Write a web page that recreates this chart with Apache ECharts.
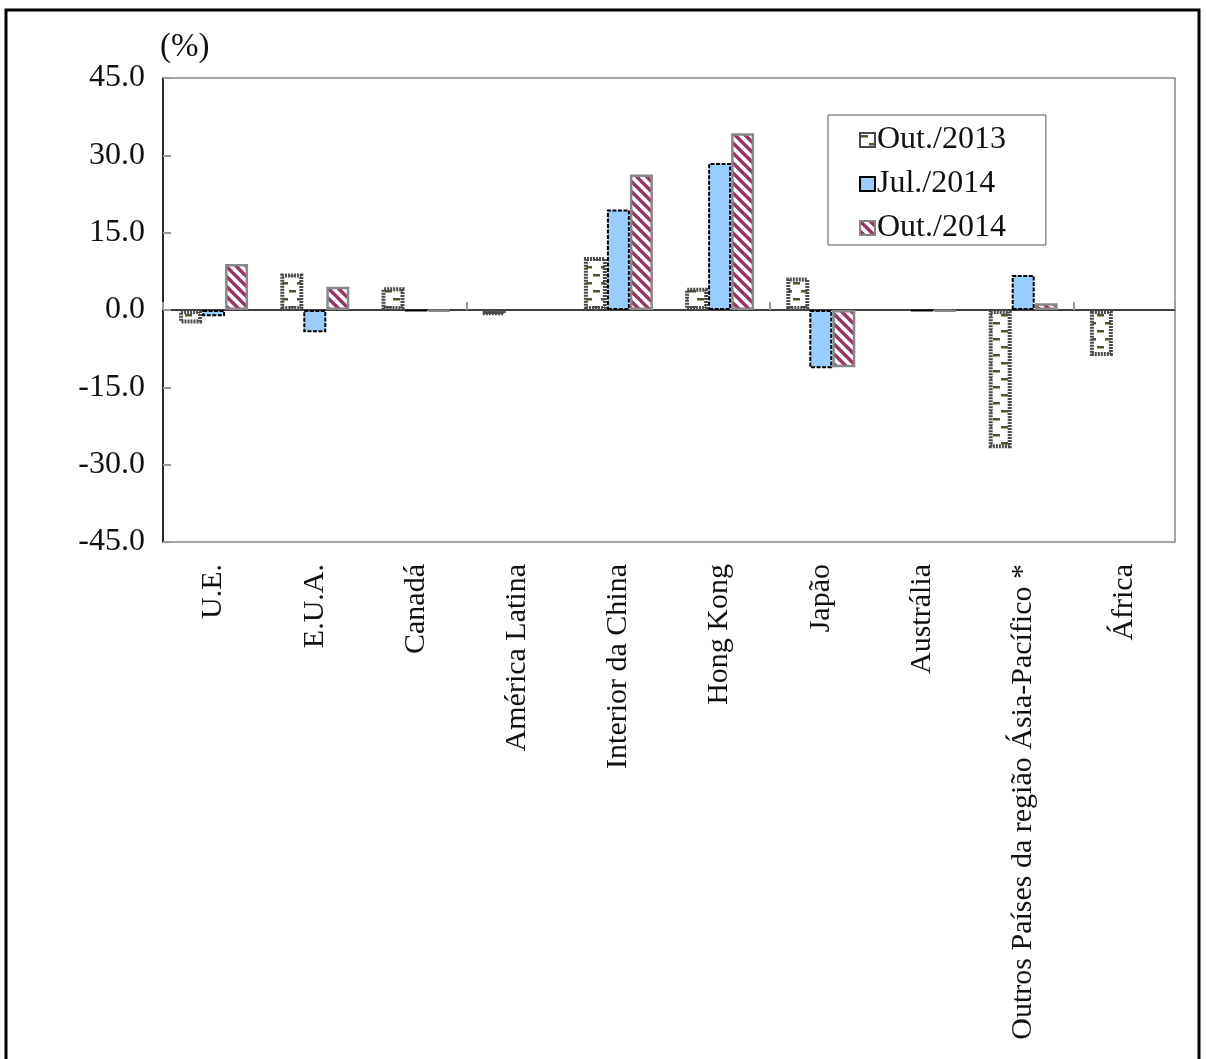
<!DOCTYPE html>
<html>
<head>
<meta charset="utf-8">
<script src="https://cdn.jsdelivr.net/npm/echarts@6/dist/echarts.min.js"></script>
<style>
  html, body { margin: 0; padding: 0; background: #fff; }
  #chart { width: 1207px; height: 1059px; }
</style>
</head>
<body>
<div id="chart"></div>
<script>
// Variação (%) por mercado de destino
const categories = ['U.E.', 'E.U.A.', 'Canadá', 'América Latina', 'Interior da China', 'Hong Kong', 'Japão', 'Austrália', 'Outros Países da região Ásia-Pacífico *', 'África'];
const seriesNames = ['Out./2013', 'Jul./2014', 'Out./2014'];
const out2013 = [-2.6, 7.1, 4.4, -1.0, 10.3, 4.3, 6.3, null, -26.8, -8.9];
const jul2014 = [-1.2, -4.3, -0.2, null, 19.5, 28.5, -11.3, -0.2, 6.8, null];
const out2014 = [8.9, 4.5, -0.3, null, 26.3, 34.3, -11.1, -0.3, 1.3, null];
const yTicks = { min: -45, max: 45, step: 15 };

const FONT = '"Liberation Serif", "DejaVu Serif", serif';

// white tile with staggered olive dashes
function dashPattern() {
  const c = document.createElement('canvas');
  c.width = 16; c.height = 16;
  const g = c.getContext('2d');
  g.fillStyle = '#fff'; g.fillRect(0, 0, 16, 16);
  g.fillStyle = '#55552a';
  g.fillRect(1, 2, 7, 2.5);
  g.fillRect(9, 10, 7, 2.5);
  return { image: c, repeat: 'repeat' };
}

// white tile with "\" diagonal stripes
function stripePattern() {
  const s = 10;
  const c = document.createElement('canvas');
  c.width = s; c.height = s;
  const g = c.getContext('2d');
  g.fillStyle = '#fff'; g.fillRect(0, 0, s, s);
  g.strokeStyle = '#993366';
  g.lineWidth = 3.4;
  g.beginPath();
  for (let k = -1; k <= 1; k++) {
    g.moveTo(-2, -2 + s * k);
    g.lineTo(s + 2, s + 2 + s * k);
  }
  g.stroke();
  return { image: c, repeat: 'repeat' };
}

const chart = echarts.init(document.getElementById('chart'));

const option = {
  backgroundColor: '#fff',
  animation: false,
  title: {
    text: '(%)',
    left: 155,
    top: 26,
    textStyle: { fontSize: 33, fontWeight: 'normal', fontFamily: FONT, color: '#111' }
  },
  graphic: [{
    type: 'rect',
    shape: { x: 6, y: 10, width: 1193, height: 1100 },
    style: { fill: null, stroke: '#000', lineWidth: 3 },
    silent: true
  }],
  legend: {
    orient: 'vertical',
    left: 828,
    top: 115,
    align: 'left',
    icon: 'rect',
    itemWidth: 15,
    itemHeight: 14,
    itemGap: 12,
    padding: [9, 40, 1, 31],
    backgroundColor: '#fff',
    borderColor: '#555',
    borderWidth: 1,
    textStyle: { fontSize: 32, fontFamily: FONT, color: '#111', padding: [0, 0, 0, -3] },
    data: seriesNames
  },
  grid: {
    left: 163, right: 32, top: 78, bottom: 517,
    containLabel: false,
    outerBoundsMode: 'none',
    show: true,
    borderColor: '#888',
    borderWidth: 1.5,
    backgroundColor: '#fff'
  },
  xAxis: [{
    type: 'category',
    data: categories,
    position: 'bottom',
    axisLine: { show: false, onZero: false },
    axisTick: { show: false },
    axisLabel: { rotate: 90, margin: 22, fontSize: 30, fontFamily: FONT, color: '#111', interval: 0 }
  }, {
    type: 'category',
    data: categories,
    position: 'bottom',
    axisLine: { show: true, onZero: true, lineStyle: { color: '#000', width: 1.5 } },
    axisTick: { show: true, inside: true, length: 8, lineStyle: { color: '#999', width: 2 } },
    axisLabel: { show: false }
  }],
  yAxis: {
    type: 'value',
    min: yTicks.min,
    max: yTicks.max,
    interval: yTicks.step,
    axisLine: { show: true, lineStyle: { color: '#000', width: 1.5 } },
    axisTick: { show: true, inside: true, length: 8, lineStyle: { color: '#999', width: 2 } },
    splitLine: { show: false },
    axisLabel: {
      margin: 18, fontSize: 32, fontFamily: FONT, color: '#111',
      formatter: v => v.toFixed(1)
    }
  },
  series: [{
    name: seriesNames[0],
    type: 'bar',
    data: out2013,
    barWidth: 23,
    barGap: '0%',
    itemStyle: { color: dashPattern(), borderColor: '#4a4a4a', borderWidth: 4, borderType: [2, 1] }
  }, {
    name: seriesNames[1],
    type: 'bar',
    data: jul2014,
    barWidth: 23,
    barGap: '0%',
    itemStyle: { color: '#99ccff', borderColor: '#000', borderWidth: 2, borderType: [4, 1.5] }
  }, {
    name: seriesNames[2],
    type: 'bar',
    data: out2014,
    barWidth: 23,
    barGap: '0%',
    itemStyle: { color: stripePattern(), borderColor: '#888', borderWidth: 2.5 }
  }]
};

chart.setOption(option);
</script>
</body>
</html>
